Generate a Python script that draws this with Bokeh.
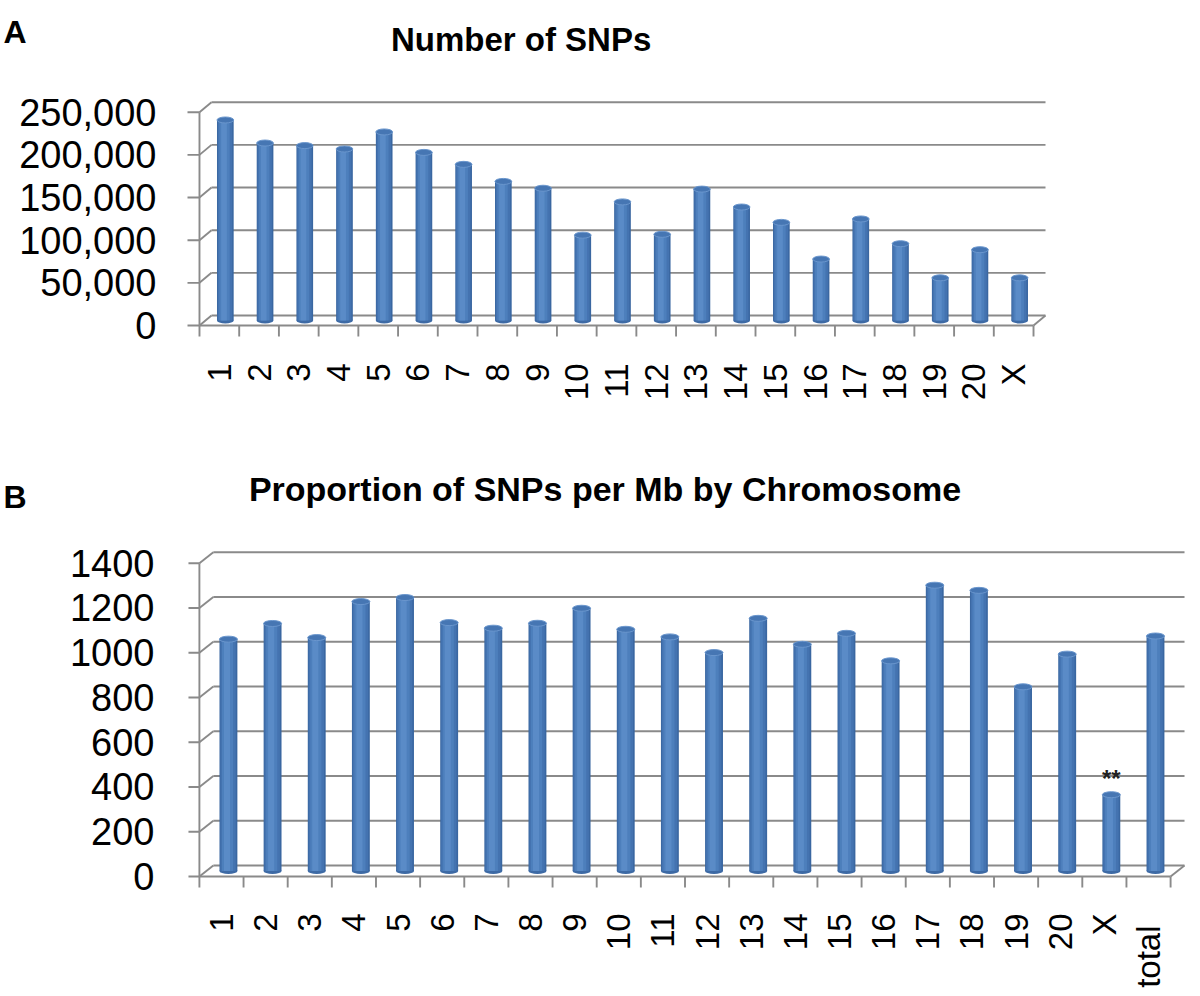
import math
from bokeh.plotting import figure
from bokeh.models import (ColumnDataSource, FactorRange, Range1d, LinearAxis,
                          FixedTicker, NumeralTickFormatter, BasicTickFormatter)
from bokeh.transform import dodge
from bokeh.embed import file_html
from bokeh.resources import INLINE
from bokeh.core.properties import value

# ---------------- data ----------------
chromosomes_a = ["1", "2", "3", "4", "5", "6", "7", "8", "9", "10",
                 "11", "12", "13", "14", "15", "16", "17", "18", "19", "20", "X"]
snp_counts = [235000, 208000, 205000, 201000, 221000, 197000, 183000, 163000,
              155000, 100000, 139000, 101000, 154000, 133000, 115000, 72000,
              119000, 90000, 50000, 83000, 50000]
ticks_a = [0, 50000, 100000, 150000, 200000, 250000]
title_a = "Number of SNPs"
letter_a = "A"

chromosomes_b = ["1", "2", "3", "4", "5", "6", "7", "8", "9", "10",
                 "11", "12", "13", "14", "15", "16", "17", "18", "19", "20", "X", "total"]
snps_per_mb = [1036, 1106, 1043, 1204, 1222, 1110, 1085, 1107, 1174, 1080,
               1046, 976, 1129, 1013, 1062, 939, 1277, 1254, 823, 969, 341, 1050]
ticks_b = [0, 200, 400, 600, 800, 1000, 1200, 1400]
significance_b = {"X": "**"}
title_b = "Proportion of SNPs per Mb by Chromosome"
letter_b = "B"

FONT = "Liberation Sans"
GRID = "#8a8a8a"
FIG_W = 1196
SHADES = [(1.00, 0.00, "#3a67a1"), (0.86, -0.02, "#4473b0"),
          (0.62, -0.05, "#4d7fbc"), (0.34, -0.08, "#5a8bc7")]

geo_a = dict(top=0, h=440, x0=198, x1=1033, pad=14, y0=325, k=213.3 / 250000,
             dx=12, dy=10, tick=12, bar_px=16.7, ytick_font="38px", ystandoff=29,
             letter_standoff=-10, letter_y=31.5, title_x=520, title_mid=39,
             title_font="33px", xlab_gap=38, xlab_extra={}, mark_gap=16)
geo_b = dict(top=440, h=552, x0=193, x1=1170, pad=16, y0=876, k=313.3 / 1400,
             dx=14, dy=11, tick=11, bar_px=18, ytick_font="38px", ystandoff=29,
             letter_standoff=40, letter_y=496.5, title_x=601, title_mid=488,
             title_font="34px", xlab_gap=37, xlab_extra={"total": 12}, mark_gap=16)


def panel(cats, vals, ticks, fmt, title, letter, marks, g):
    n = len(cats)
    w = (g["x1"] - g["x0"]) / n          # px per category
    k = g["k"]                            # px per data unit
    pu = g["pad"] / w
    dxu = g["dx"] / w
    dyd = g["dy"] / k
    frame_left = g["x0"] - g["pad"]
    frame_right = g["x1"] + g["pad"]

    def sx(px):
        return (px - g["x0"]) / w

    def sy(py):
        return (g["y0"] - py) / k

    p = figure(width=FIG_W, height=g["h"],
               x_range=FactorRange(factors=cats, range_padding=pu,
                                   range_padding_units="absolute", factor_padding=0.0),
               y_range=Range1d(sy(g["top"] + g["h"]), sy(g["top"])),
               output_backend="svg", toolbar_location=None,
               x_axis_location=None, y_axis_location=None,
               min_border_left=int(frame_left),
               min_border_right=int(FIG_W - frame_right),
               min_border_top=0, min_border_bottom=0)
    p.outline_line_color = None
    p.background_fill_color = "white"
    p.border_fill_color = "white"
    for gr in list(p.center):
        if gr.__class__.__name__ == "Grid":
            gr.visible = False

    # --- value axis (front edge) ---
    yax = LinearAxis(ticker=FixedTicker(ticks=ticks), formatter=fmt,
                     major_tick_out=0, major_tick_in=0, major_tick_line_color=None,
                     minor_tick_line_color=None, axis_line_color=None,
                     major_label_standoff=g["ystandoff"],
                     major_label_text_font=FONT,
                     major_label_text_font_size=g["ytick_font"],
                     major_label_text_color="black")
    p.add_layout(yax, "left")
    ly = int(round(sy(g["letter_y"])))
    lax = LinearAxis(ticker=FixedTicker(ticks=[ly]), major_label_overrides={ly: letter},
                     major_tick_out=0, major_tick_in=0, major_tick_line_color=None,
                     minor_tick_line_color=None, axis_line_color=None,
                     major_label_standoff=g["letter_standoff"],
                     major_label_text_font=FONT, major_label_text_font_style="bold",
                     major_label_text_font_size="32px", major_label_text_color="black")
    p.add_layout(lax, "left")

    # --- 3D walls / gridlines / category ticks ---
    xs0, ys0, xs1, ys1 = [], [], [], []
    for t in ticks:
        xs0 += [-g["tick"] / w, 0, dxu]
        ys0 += [t, t, t + dyd]
        xs1 += [0, dxu, n + dxu]
        ys1 += [t, t + dyd, t + dyd]
    xs0 += [0, 0, n]
    ys0 += [0, 0, 0]
    xs1 += [0, n, n + dxu]
    ys1 += [ticks[-1], 0, dyd]
    for i in range(n + 1):
        xs0.append(i)
        ys0.append(0)
        xs1.append(i)
        ys1.append(-11 / k)
    p.segment(x0=xs0, y0=ys0, x1=xs1, y1=ys1, line_color=GRID, line_width=1.9)

    # --- category labels (rotated, reading upwards, ends aligned to the axis) ---
    lab_y = [-(g["xlab_gap"] + g["xlab_extra"].get(c, 0)) / k for c in cats]
    lsrc = ColumnDataSource(dict(cat=cats, ly=lab_y))
    p.text(x="cat", y="ly", text="cat", source=lsrc, angle=math.pi / 2,
           text_align="right", text_baseline="middle", text_font=value(FONT),
           text_font_size="33px", text_color="black")

    # --- cylinders ---
    src = ColumnDataSource(dict(cat=cats, val=vals))
    bw = g["bar_px"] / w
    xc = dxu / 2
    base = dyd / 2
    p.ellipse(x=dodge("cat", xc, range=p.x_range), y=base, width=g["bar_px"], height=6,
              width_units="screen", height_units="screen", source=src,
              fill_color="#3d6aa5", line_color=None)
    for frac, off, col in SHADES:
        p.vbar(x=dodge("cat", xc + off * bw, range=p.x_range), width=bw * frac,
               bottom=base, top=dodge("val", base), source=src,
               fill_color=col, line_color=None)
    p.ellipse(x=dodge("cat", xc, range=p.x_range), y=dodge("val", base),
              width=g["bar_px"], height=6, width_units="screen", height_units="screen",
              source=src, fill_color="#4676b3", line_color="#6a96cd", line_width=1)

    # --- significance marks ---
    mc = [c for c in cats if c in marks]
    if mc:
        msrc = ColumnDataSource(dict(cat=mc, val=[vals[cats.index(c)] for c in mc],
                                     mark=[marks[c] for c in mc]))
        p.text(x=dodge("cat", xc, range=p.x_range),
               y=dodge("val", base + g["mark_gap"] / k), text="mark", source=msrc,
               text_align="center", text_baseline="middle", text_font=value(FONT),
               text_font_style="bold", text_font_size="24px", text_color="#222222")

    # --- title ---
    p.text(x=[sx(g["title_x"])], y=[sy(g["title_mid"])], text=[title],
           text_align="center", text_baseline="middle", text_font=value(FONT),
           text_font_style="bold", text_font_size=g["title_font"], text_color="black")
    return p


pa = panel(chromosomes_a, snp_counts, ticks_a, NumeralTickFormatter(format="0,0"),
           title_a, letter_a, {}, geo_a)
pb = panel(chromosomes_b, snps_per_mb, ticks_b, BasicTickFormatter(),
           title_b, letter_b, significance_b, geo_b)

open("out.html", "w").write(file_html([pa, pb], INLINE))
